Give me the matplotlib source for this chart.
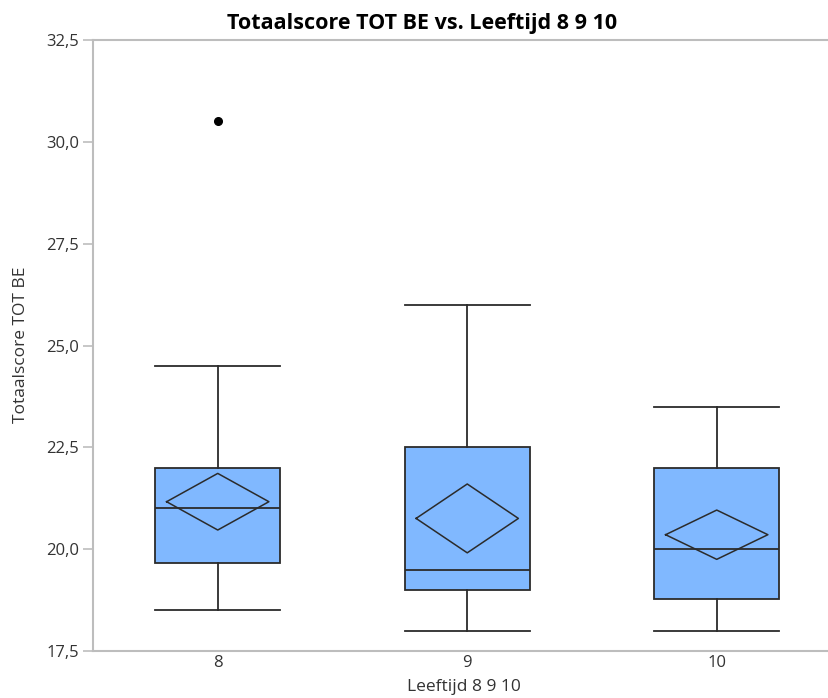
import matplotlib
matplotlib.use("Agg")
import matplotlib.pyplot as plt
from matplotlib.ticker import FuncFormatter

# ---- data ----
groups = ["8", "9", "10"]
q1 = [19.65, 19.0, 18.77]
med = [21.0, 19.5, 20.0]
q3 = [22.0, 22.5, 22.0]
whislo = [18.5, 18.0, 18.0]
whishi = [24.5, 26.0, 23.5]
outliers = [[30.5], [], []]
# mean diamonds (mean with lower/upper confidence bound)
mean_lo = [20.47, 19.91, 19.75]
mean_hi = [21.86, 21.60, 20.96]
yticks = [17.5, 20.0, 22.5, 25.0, 27.5, 30.0, 32.5]

BOX = "#80b8ff"
EDGE = "#2b2b2b"
AXC = "#bdbdbd"
TXT = "#333333"

plt.rcParams["font.family"] = ["Open Sans", "DejaVu Sans"]

fig = plt.figure(figsize=(8.29, 6.98), dpi=100)
ax = fig.add_axes([93 / 829, 47 / 698, 1 - 93 / 829, 611 / 698])

pos = list(range(1, len(groups) + 1))
stats = [dict(med=m, q1=a, q3=b, whislo=lo, whishi=hi, fliers=f, label=g)
         for g, m, a, b, lo, hi, f in zip(groups, med, q1, q3, whislo, whishi, outliers)]
ax.bxp(stats, positions=pos, widths=0.5, capwidths=0.5, patch_artist=True,
       showfliers=True,
       boxprops=dict(facecolor=BOX, edgecolor=EDGE, lw=1.3),
       medianprops=dict(color=EDGE, lw=1.3),
       whiskerprops=dict(color=EDGE, lw=1.3),
       capprops=dict(color=EDGE, lw=1.3),
       flierprops=dict(marker="o", markerfacecolor="black", markeredgecolor="black",
                       markersize=5.5))

# mean diamonds
hw = 0.205
for p, lo, hi in zip(pos, mean_lo, mean_hi):
    m = (lo + hi) / 2
    ax.plot([p - hw, p, p + hw, p, p - hw], [m, hi, m, lo, m], color=EDGE, lw=1.1, zorder=4)

ax.set_xlim(0.5, 3.45)
ax.set_ylim(17.5, 32.5)
ax.set_yticks(yticks)
ax.yaxis.set_major_formatter(FuncFormatter(lambda v, _: f"{v:.1f}".replace(".", ",")))
ax.set_xticks(pos)
ax.set_xticklabels(groups)
ax.tick_params(axis="x", length=0, pad=3, labelsize=12, labelcolor=TXT)
ax.tick_params(axis="y", length=7, width=1.2, color=AXC, pad=3, labelsize=12, labelcolor=TXT)

for s in ("left", "bottom", "top"):
    ax.spines[s].set_color(AXC)
    ax.spines[s].set_linewidth(1.5)
ax.spines["right"].set_visible(False)

fig.text(21.5 / 829, 1 - 345 / 698, "Totaalscore TOT BE", rotation=90,
         ha="center", va="center", fontsize=12.5, color=TXT)
fig.text(464 / 829, 1 - 687 / 698, "Leeftijd 8 9 10",
         ha="center", va="center", fontsize=12.5, color=TXT)
fig.text(422 / 829, 1 - 23 / 698, "Totaalscore TOT BE vs. Leeftijd 8 9 10",
         ha="center", va="center", fontsize=15.5, fontweight="bold", color="black")

fig.savefig("out.png", dpi=100)
